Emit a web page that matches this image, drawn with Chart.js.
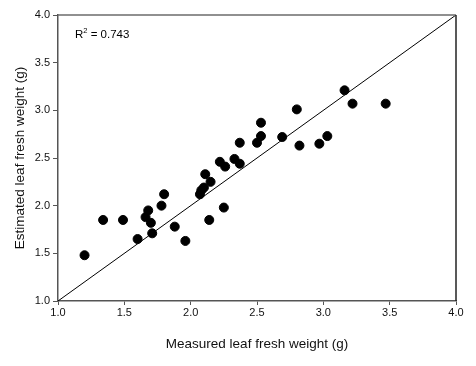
<!DOCTYPE html>
<html>
<head>
<meta charset="utf-8">
<script src="https://cdn.jsdelivr.net/npm/chart.js@4/dist/chart.umd.min.js"></script>
<style>
  html, body { margin: 0; padding: 0; background: #fff; }
  #wrap { width: 476px; height: 366px; }
</style>
</head>
<body>
<div id="wrap"><canvas id="chart" width="476" height="366"></canvas></div>
<script>
// measured vs estimated leaf fresh weight (g)
const measured = [1.20, 1.34, 1.49, 1.60, 1.66, 1.68, 1.70, 1.71, 1.78, 1.80,
  1.88, 1.96, 2.07, 2.08, 2.10, 2.11, 2.14, 2.15, 2.22, 2.25, 2.26, 2.33,
  2.37, 2.37, 2.50, 2.53, 2.53, 2.69, 2.80, 2.82, 2.97, 3.03, 3.16, 3.22, 3.47];
const estimated = [1.48, 1.85, 1.85, 1.65, 1.88, 1.95, 1.82, 1.71, 2.00, 2.12,
  1.78, 1.63, 2.12, 2.16, 2.19, 2.33, 1.85, 2.25, 2.46, 1.98, 2.41, 2.49,
  2.44, 2.66, 2.66, 2.87, 2.73, 2.72, 3.01, 2.63, 2.65, 2.73, 3.21, 3.07, 3.07];
const oneToOne = [1.0, 4.0];
const ticks = [1.0, 1.5, 2.0, 2.5, 3.0, 3.5, 4.0];
const rSquared = '0.743';

const points = measured.map((x, i) => ({ x: x, y: estimated[i] }));
const line = oneToOne.map(v => ({ x: v, y: v }));

const tickFont = { family: 'Liberation Sans, Arial, sans-serif', size: 11 };
const titleFont = { family: 'Liberation Sans, Arial, sans-serif', size: 13.5 };

// frame on top and right, plus the R² note
const extras = {
  id: 'extras',
  afterDraw(chart) {
    const ctx = chart.ctx;
    const a = chart.chartArea;
    ctx.save();
    ctx.lineWidth = 1.5;
    ctx.strokeStyle = '#6b6b6b';
    ctx.beginPath();
    ctx.moveTo(a.left, a.top);
    ctx.lineTo(a.right, a.top);
    ctx.stroke();
    ctx.strokeStyle = '#222';
    ctx.beginPath();
    ctx.moveTo(a.right, a.top);
    ctx.lineTo(a.right, a.bottom);
    ctx.stroke();

    ctx.fillStyle = '#000';
    ctx.textBaseline = 'alphabetic';
    ctx.font = '11.5px Liberation Sans, Arial, sans-serif';
    let x = a.left + 17, y = a.top + 23;
    ctx.fillText('R', x, y);
    x += ctx.measureText('R').width;
    ctx.font = '7.5px Liberation Sans, Arial, sans-serif';
    ctx.fillText('2', x, y - 5);
    x += ctx.measureText('2').width;
    ctx.font = '11.5px Liberation Sans, Arial, sans-serif';
    ctx.fillText(' = ' + rSquared, x, y);
    ctx.restore();
  }
};

new Chart(document.getElementById('chart'), {
  type: 'scatter',
  data: {
    datasets: [
      {
        data: points,
        backgroundColor: '#000',
        borderColor: '#000',
        pointRadius: 4.5,
        pointHoverRadius: 4.5,
      },
      {
        type: 'line',
        data: line,
        borderColor: '#000',
        borderWidth: 1,
        pointRadius: 0,
        fill: false,
      },
    ],
  },
  options: {
    responsive: false,
    animation: false,
    layout: { padding: { top: 15, right: 20, left: 0, bottom: 0 } },
    plugins: {
      legend: { display: false },
      tooltip: { enabled: false },
    },
    scales: {
      x: {
        type: 'linear',
        min: 1,
        max: 4,
        afterBuildTicks: s => { s.ticks = ticks.map(v => ({ value: v })); },
        afterFit: s => { s.height = 65; },
        ticks: {
          font: tickFont,
          color: '#111',
          padding: 1,
          maxRotation: 0,
          callback: v => v.toFixed(1),
        },
        grid: { drawOnChartArea: false, drawTicks: true, tickLength: 4, color: '#555' },
        border: { color: '#555', width: 1.5 },
        title: {
          display: true,
          text: 'Measured leaf fresh weight (g)',
          font: titleFont,
          color: '#111',
          padding: { top: 4, bottom: 14 },
        },
      },
      y: {
        type: 'linear',
        min: 1,
        max: 4,
        afterBuildTicks: s => { s.ticks = ticks.map(v => ({ value: v })); },
        afterFit: s => { s.width = 58; },
        ticks: {
          font: tickFont,
          color: '#111',
          padding: 3,
          callback: v => v.toFixed(1),
        },
        grid: { drawOnChartArea: false, drawTicks: true, tickLength: 5, color: '#555' },
        border: { color: '#555', width: 1.5 },
        title: {
          display: true,
          text: 'Estimated leaf fresh weight (g)',
          font: titleFont,
          color: '#111',
          padding: { bottom: 0, top: 12 },
        },
      },
    },
  },
  plugins: [extras],
});
</script>
</body>
</html>
